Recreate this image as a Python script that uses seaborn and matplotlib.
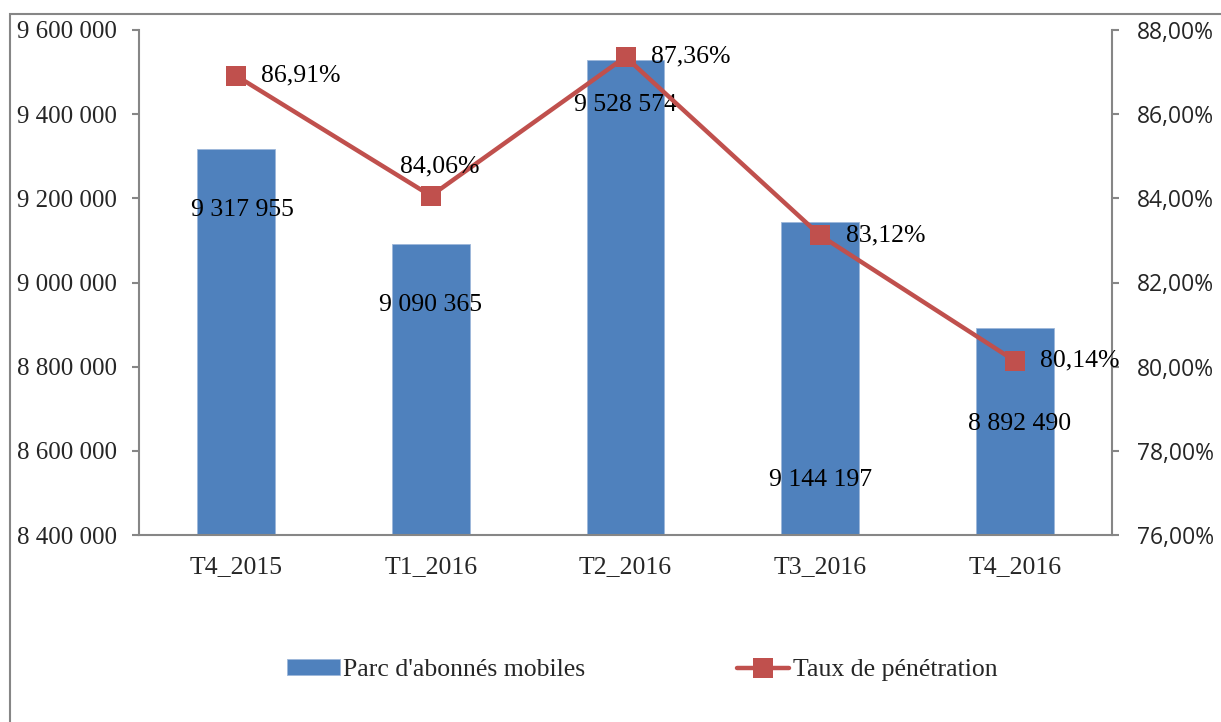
"""Parc d'abonnés mobiles et taux de pénétration, T4_2015 - T4_2016."""

import seaborn as sns
import pandas as pd
import matplotlib.pyplot as plt
from matplotlib.patches import Rectangle
from matplotlib.ticker import FuncFormatter, FixedLocator

# Data
quarters = ["T4_2015", "T1_2016", "T2_2016", "T3_2016", "T4_2016"]
subscribers = [9317955, 9090365, 9528574, 9144197, 8892490]
penetration = [86.91, 84.06, 87.36, 83.12, 80.14]

# Label placement (pixel offsets from the mark), as in the original sheet
bar_label_offsets = [(6, -61), (0, -61), (0, -45), (0, -258), (5, -96)]
pct_label_offsets = [(25, 0), (-31, 29), (25, 0), (26, 0), (25, 0)]

BLUE = "#4F81BD"
RED = "#C0504D"
GREY = "#868686"
SERIF = ["Liberation Serif", "DejaVu Serif"]
SANS = ["Open Sans", "DejaVu Sans"]
FS = 18.5

df = pd.DataFrame({"trimestre": quarters, "parc": subscribers, "taux": penetration})

sns.set_style("white")
plt.rcParams["font.family"] = SERIF

fig = plt.figure(figsize=(12.21, 7.22), dpi=100)
ax = fig.add_axes([139 / 1221, 1 - 535 / 722, (1112 - 139) / 1221, (535 - 30) / 722])
ax2 = ax.twinx()

# Bars
sns.barplot(data=df, x="trimestre", y="parc", color=BLUE, width=0.4,
            saturation=1, edgecolor="#9DB7DA", linewidth=0.6,
            label="Parc d'abonnés mobiles", ax=ax)
ax.set_ylim(8400000, 9600000)
ax.set_xlim(-0.5, len(quarters) - 0.5)
ax.yaxis.set_major_locator(FixedLocator(range(8400000, 9600001, 200000)))
ax.yaxis.set_major_formatter(FuncFormatter(lambda v, p: f"{v:,.0f}".replace(",", " ")))

for i, (v, off) in enumerate(zip(subscribers, bar_label_offsets)):
    ax.annotate(f"{v:,}".replace(",", " "), (i, v), xytext=off,
                textcoords="offset pixels", ha="center", va="center",
                fontsize=FS, family=SERIF, color="black")

# Line on the secondary axis
sns.lineplot(data=df, x="trimestre", y="taux", color=RED, linewidth=3.2,
             marker="s", markersize=15, markeredgewidth=0, sort=False,
             label="Taux de pénétration", ax=ax2)
ax2.set_ylim(76, 88)
ax2.yaxis.set_major_locator(FixedLocator(range(76, 89, 2)))
ax2.yaxis.set_major_formatter(FuncFormatter(lambda v, p: f"{v:.2f}%".replace(".", ",")))

for i, (v, off) in enumerate(zip(penetration, pct_label_offsets)):
    ax2.annotate(f"{v:.2f}%".replace(".", ","), (i, v), xytext=off,
                 textcoords="offset pixels", ha="left", va="center",
                 fontsize=FS, family=SERIF, color="black")

# Axes styling
for a in (ax, ax2):
    a.set_xlabel("")
    a.set_ylabel("")
    for s in a.spines.values():
        s.set_visible(False)
    a.grid(False)
ax.spines["left"].set_visible(True)
ax.spines["bottom"].set_visible(True)
ax2.spines["right"].set_visible(True)
for s in (ax.spines["left"], ax.spines["bottom"], ax2.spines["right"]):
    s.set_color(GREY)
    s.set_linewidth(1.5)

ax.set_xticks(range(len(quarters)))
ax.set_xticklabels(quarters)
ax.set_xticks([i - 0.5 for i in range(len(quarters) + 1)], minor=True)
ax.tick_params(axis="x", which="major", length=0, pad=15, labelsize=FS)
ax.tick_params(axis="x", which="minor", length=6, width=1.5, color=GREY, direction="out")
ax.tick_params(axis="y", length=5, width=1.5, color=GREY, direction="out",
               pad=11, labelsize=18, left=True)
ax2.tick_params(axis="y", length=5, width=1.5, color=GREY, direction="out",
                pad=13, labelsize=16.5, right=True)
for t in ax2.get_yticklabels():
    t.set_family(SANS)

if ax.get_legend():
    ax.get_legend().remove()
if ax2.get_legend():
    ax2.get_legend().remove()

h1, l1 = ax.get_legend_handles_labels()
h2, l2 = ax2.get_legend_handles_labels()
fig.legend(h1 + h2, l1 + l2, loc="center", bbox_to_anchor=(642 / 1221, 1 - 670 / 722),
           ncol=2, frameon=False, handlelength=2.06, handleheight=0.55,
           handletextpad=0.12, columnspacing=5.9, prop={"family": SERIF, "size": FS})

# Outer chart frame
fig.patches.append(Rectangle((10 / 1221, -0.1), 1.2, 1.1 - 14 / 722,
                             transform=fig.transFigure, fill=False,
                             edgecolor=GREY, linewidth=1.5))

fig.savefig("out.png", dpi=100)
